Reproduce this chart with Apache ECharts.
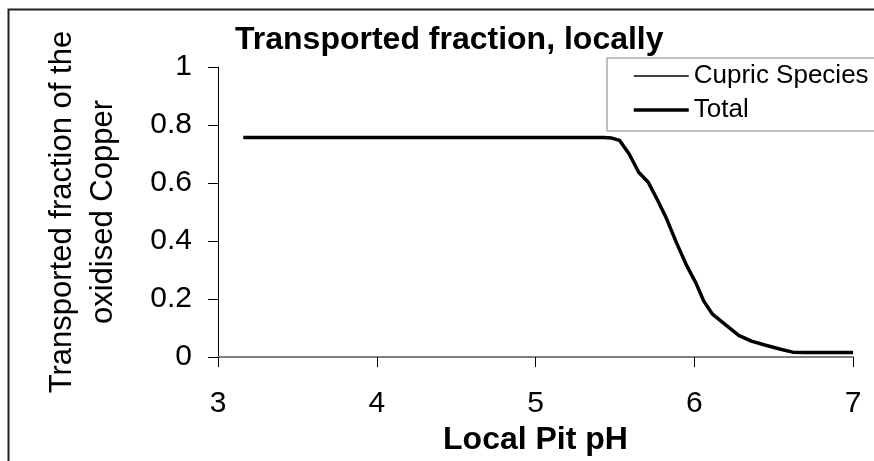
<!DOCTYPE html>
<html>
<head>
<meta charset="utf-8">
<script src="https://cdn.jsdelivr.net/npm/echarts@6/dist/echarts.min.js"></script>
<style>
html,body{margin:0;padding:0;background:#fff;}
#chart{width:874px;height:461px;}
</style>
</head>
<body>
<div id="chart"></div>
<script>
const titleText = "Transported fraction, locally";
const xAxisName = "Local Pit pH";
const yAxisName = "Transported fraction of the\noxidised Copper";
const seriesNames = ["Cupric Species", "Total"];
const pH = [3.16, 3.5, 3.88, 4.2, 4.6, 5.0, 5.3, 5.43, 5.48, 5.53, 5.59, 5.65, 5.71, 5.77, 5.82, 5.885, 5.95, 6.01, 6.06, 6.115, 6.14, 6.2, 6.28, 6.36, 6.45, 6.55, 6.62, 6.7, 6.8, 6.9, 7.0];
const cupricSpecies = [0.757, 0.757, 0.757, 0.757, 0.757, 0.757, 0.757, 0.757, 0.755, 0.747, 0.70, 0.637, 0.603, 0.54, 0.484, 0.398, 0.318, 0.256, 0.193, 0.148, 0.137, 0.11, 0.075, 0.055, 0.041, 0.026, 0.017, 0.016, 0.016, 0.016, 0.016];
const total = [0.757, 0.757, 0.757, 0.757, 0.757, 0.757, 0.757, 0.757, 0.755, 0.747, 0.70, 0.637, 0.603, 0.54, 0.484, 0.398, 0.318, 0.256, 0.193, 0.148, 0.137, 0.11, 0.075, 0.055, 0.041, 0.026, 0.017, 0.016, 0.016, 0.016, 0.016];
const xTicks = {min: 3, max: 7, interval: 1};
const yTicks = {min: 0, max: 1, interval: 0.2};

const FONT = "Liberation Sans, Arial, sans-serif";
const chart = echarts.init(document.getElementById('chart'), null, {renderer: 'canvas'});
chart.setOption({
  animation: false,
  backgroundColor: '#fff',
  textStyle: {fontFamily: FONT, color: '#000'},
  graphic: [{
    type: 'rect', silent: true, z: 0,
    shape: {x: 8.5, y: 9.5, width: 900, height: 500},
    style: {fill: 'none', stroke: '#222', lineWidth: 2}
  }],
  title: {
    text: titleText, left: 235, top: 24, padding: 0,
    textStyle: {fontFamily: FONT, fontSize: 32, fontWeight: 'bold', color: '#000'}
  },
  legend: {
    orient: 'vertical', left: 607, top: 58,
    padding: [5, 60, 8, 25], itemGap: 8,
    itemWidth: 55, itemHeight: 14,
    borderColor: '#808080', borderWidth: 1, backgroundColor: '#fff',
    itemStyle: {opacity: 0},
    textStyle: {fontFamily: FONT, fontSize: 26, color: '#000'},
    data: [
      {name: seriesNames[0], lineStyle: {width: 1.5, color: '#000'}, itemStyle: {opacity: 0}},
      {name: seriesNames[1], lineStyle: {width: 3.5, color: '#000'}, itemStyle: {opacity: 0}}
    ]
  },
  grid: {left: 218, right: 21, top: 67, bottom: 101, containLabel: false},
  xAxis: {
    type: 'value', min: xTicks.min, max: xTicks.max, interval: xTicks.interval,
    name: xAxisName, nameLocation: 'middle', nameGap: 62,
    nameTextStyle: {fontFamily: FONT, fontSize: 32, fontWeight: 'bold', color: '#000'},
    axisLine: {show: true, onZero: false, lineStyle: {color: '#808080', width: 2}},
    axisTick: {show: true, length: 10, lineStyle: {color: '#000', width: 1}},
    axisLabel: {fontFamily: FONT, fontSize: 30, color: '#000', margin: 32},
    splitLine: {show: false}
  },
  yAxis: {
    type: 'value', min: yTicks.min, max: yTicks.max, interval: yTicks.interval,
    name: yAxisName, nameLocation: 'middle', nameGap: 94,
    nameTextStyle: {fontFamily: FONT, fontSize: 31, color: '#000', lineHeight: 41},
    axisLine: {show: true, lineStyle: {color: '#000', width: 1}},
    axisTick: {show: true, length: 10, lineStyle: {color: '#000', width: 1}},
    axisLabel: {fontFamily: FONT, fontSize: 30, color: '#000', margin: 26},
    splitLine: {show: false}
  },
  series: [
    {
      name: seriesNames[0], type: 'line', showSymbol: false, symbol: 'none',
      data: pH.map((x, i) => [x, cupricSpecies[i]]),
      lineStyle: {color: '#000', width: 1.5}, itemStyle: {color: '#000'}, z: 3
    },
    {
      name: seriesNames[1], type: 'line', showSymbol: false, symbol: 'none',
      data: pH.map((x, i) => [x, total[i]]),
      lineStyle: {color: '#000', width: 3.5}, itemStyle: {color: '#000'}, z: 2
    }
  ]
});
</script>
</body>
</html>
